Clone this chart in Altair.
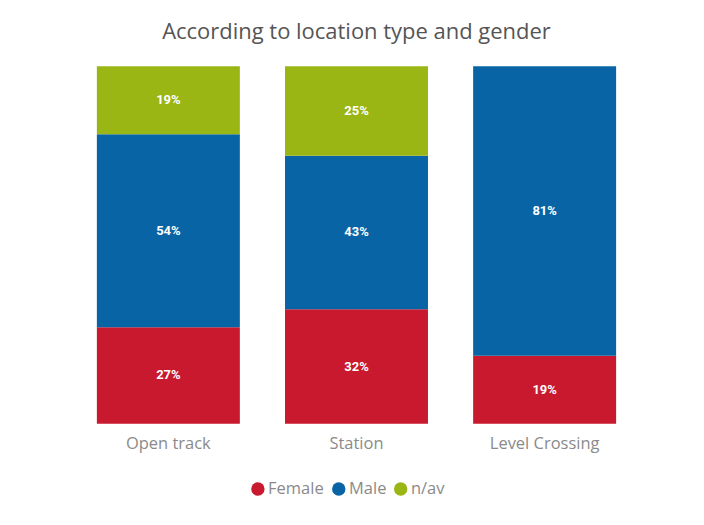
import altair as alt
import pandas as pd

locations = ["Open track", "Station", "Level Crossing"]
genders = ["Female", "Male", "n/av"]
female = [27, 32, 19]
male = [54, 43, 81]
n_av = [19, 25, 0]
colors = ["#c8192e", "#0964a6", "#99b614"]

rows = []
for i, loc in enumerate(locations):
    for g, vals in zip(genders, [female, male, n_av]):
        rows.append({"location": loc, "gender": g, "value": vals[i], "ord": genders.index(g)})
df = pd.DataFrame(rows)

base = alt.Chart(df).transform_stack(
    stack="value", groupby=["location"], as_=["y0", "y1"], sort=[alt.SortField("ord")]
).transform_calculate(
    mid="(datum.y0 + datum.y1) / 2",
    lbl="datum.value + '%'",
)

xenc = alt.X("location:N", sort=locations, title=None,
             scale=alt.Scale(paddingInner=0.24, paddingOuter=0),
             axis=alt.Axis(domain=False, ticks=False, labelAngle=0, labelPadding=12,
                           labelFontSize=16.5, labelColor="#8a8a8a", labelFont="Open Sans"))
yscale = alt.Scale(domain=[0, 100], nice=False, zero=True)

bars = base.mark_bar().encode(
    x=xenc,
    y=alt.Y("y0:Q", scale=yscale, axis=None),
    y2="y1:Q",
    color=alt.Color("gender:N", sort=genders,
                    scale=alt.Scale(domain=genders, range=colors),
                    legend=alt.Legend(title=None, orient="none", direction="horizontal",
                                      legendX=153, legendY=415, symbolType="circle",
                                      symbolSize=180, symbolStrokeWidth=0, symbolOpacity=1,
                                      labelFontSize=16.5, labelColor="#8a8a8a", labelFont="Open Sans",
                                      columnPadding=6, labelOffset=2, padding=0)),
)

text = base.transform_filter("datum.value > 0").mark_text(
    color="white", fontWeight="bold", fontSize=13, font="Roboto"
).encode(
    x=alt.X("location:N", sort=locations),
    y=alt.Y("mid:Q", scale=yscale),
    text="lbl:N",
)

chart = alt.layer(bars, text).properties(
    width=520, height=358,
    title=alt.TitleParams("According to location type and gender", fontSize=22,
                          font="Open Sans", fontWeight="normal", color="#555555", offset=22),
    autosize=alt.AutoSizeParams(type="none"),
    padding={"left": 89, "top": 58, "right": 80, "bottom": 80},
).configure_view(stroke=None)

chart.save("out.html", embed_options={"renderer": "svg", "actions": False})
